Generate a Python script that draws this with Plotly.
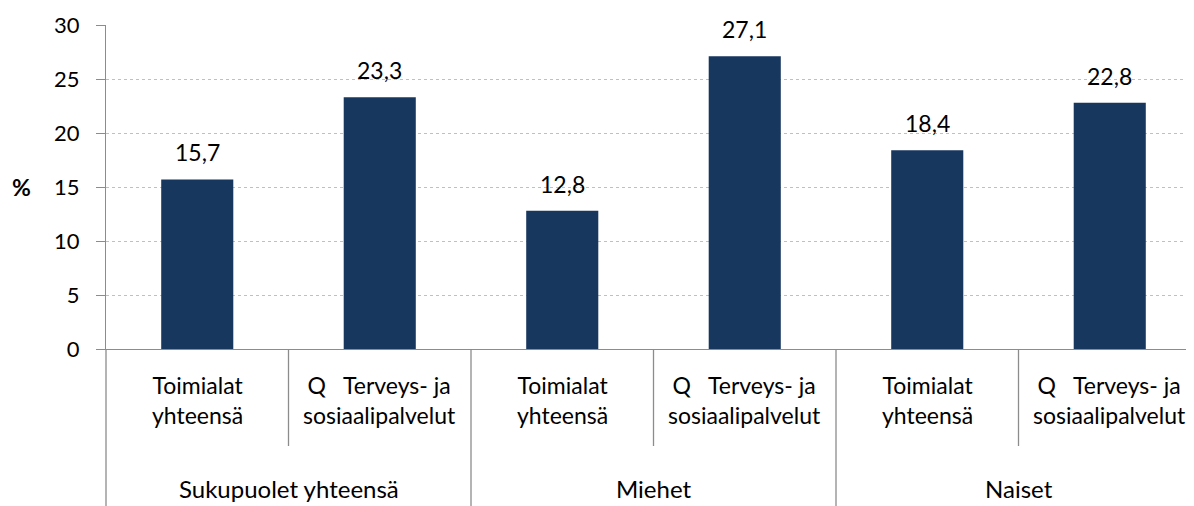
import plotly.graph_objects as go

groups = ["Sukupuolet yhteensä", "Miehet", "Naiset"]
inner = ["Toimialat<br>yhteensä", "Q   Terveys- ja<br>sosiaalipalvelut"]
values = [15.7, 23.3, 12.8, 27.1, 18.4, 22.8]
y_ticks = [0, 5, 10, 15, 20, 25, 30]
y_title = "%"

FONT = "Lato"
BAR = "#17375E"
AXIS = "#8C8C8C"

n = len(values)
xs = list(range(n))
xr = [-0.5, n - 0.5]

def px(v):
    return (v - xr[0]) / (xr[1] - xr[0])

fig = go.Figure(go.Bar(x=xs, y=values, marker_color=BAR, marker_line_width=0,
                       hoverinfo="skip"))

ann = []
for i, v in enumerate(values):
    ann.append(dict(x=i, y=v, xref="x", yref="y", text=f"{v:.1f}".replace(".", ","),
                    showarrow=False, yanchor="middle", yshift=27,
                    font=dict(family=FONT, size=23, color="#000")))
for i in range(n):
    ann.append(dict(x=i, y=0, xref="x", yref="paper", text=inner[i % 2],
                    showarrow=False, yanchor="middle", yshift=-51,
                    font=dict(family=FONT, size=23, color="#000")))
for g, name in enumerate(groups):
    ann.append(dict(x=2 * g + 0.5, y=0, xref="x", yref="paper", text=name,
                    showarrow=False, yanchor="middle", yshift=-139,
                    font=dict(family=FONT, size=24, color="#000")))
ann.append(dict(x=0, y=15, xref="paper", yref="y", text=f"<b>{y_title}</b>",
                showarrow=False, xanchor="center", xshift=-85,
                font=dict(family=FONT, size=23, color="#000")))

shapes = []
for i in range(n + 1):
    b = i - 0.5
    major = (i % 2 == 0)
    shapes.append(dict(type="line", xref="paper", yref="paper", x0=px(b), x1=px(b),
                       ysizemode="pixel", yanchor=0, y0=0, y1=-170 if major else -97,
                       line=dict(color=AXIS, width=1.3)))

fig.update_layout(
    width=1194, height=506,
    margin=dict(l=98, r=1, t=17, b=165),
    paper_bgcolor="white", plot_bgcolor="white",
    showlegend=False, bargap=0.605,
    annotations=ann, shapes=shapes,
    xaxis=dict(range=xr, showticklabels=False, showgrid=False, zeroline=False,
               showline=True, linecolor=AXIS, linewidth=1.3, ticks=""),
    yaxis=dict(range=[0, 30], tickvals=y_ticks, showgrid=True, gridcolor="#C0C0C0",
               griddash="dot", gridwidth=1, zeroline=False, showline=True,
               linecolor=AXIS, linewidth=1.3, ticks="outside", ticklen=9,
               tickcolor=AXIS, ticklabelstandoff=12,
               tickfont=dict(family=FONT, size=22, color="#000")),
)

fig.write_html("out.html")
